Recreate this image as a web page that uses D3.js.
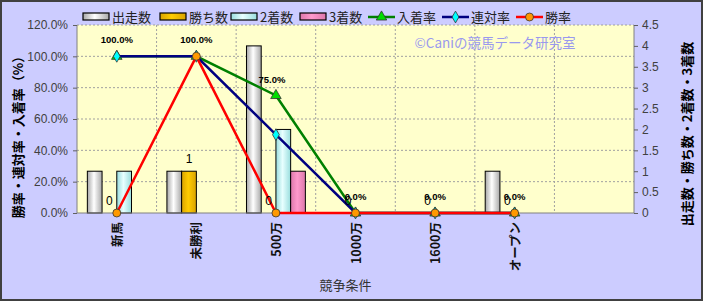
<!DOCTYPE html>
<html>
<head>
<meta charset="utf-8">
<script src="https://cdn.jsdelivr.net/npm/d3@7"></script>
<style>
body { margin: 0; background: #fff; }
svg text { font-family: "Noto Sans CJK JP", "DejaVu Sans", sans-serif; }
</style>
</head>
<body>
<div id="chart"></div>
<script>
// data
const cats = ["新馬", "未勝利", "500万", "1000万", "1600万", "オープン", ""];
const runs = [1, 1, 4, 0, 0, 1, null];
const wins = [0, 1, 0, 0, 0, 0, null];
const seconds = [1, 0, 2, 0, 0, 0, null];
const thirds = [0, 0, 1, 0, 0, 0, null];
const inRate = [100, 100, 75, 0, 0, 0, null];
const rentaiRate = [100, 100, 50, 0, 0, 0, null];
const winRate = [0, 100, 0, 0, 0, 0, null];
const leftTicks = [0, 20, 40, 60, 80, 100, 120];
const rightTicks = [0, 0.5, 1, 1.5, 2, 2.5, 3, 3.5, 4, 4.5];

const W = 703, H = 301;
const m = {left: 77, top: 25, right: 634, bottom: 213};

const svg = d3.select("#chart").append("svg").attr("width", W).attr("height", H);

const defs = svg.append("defs");
function grad(id, edge, mid) {
    const g = defs.append("linearGradient").attr("id", id).attr("x1", "0%").attr("x2", "100%");
    g.append("stop").attr("offset", "0%").attr("stop-color", edge);
    g.append("stop").attr("offset", "45%").attr("stop-color", mid);
    g.append("stop").attr("offset", "100%").attr("stop-color", edge);
}
grad("gRun", "#a8a8a8", "#ffffff");
grad("gWin", "#d9a300", "#ffcc00");
grad("gSec", "#99dddd", "#e8ffff");
grad("gThr", "#dd77aa", "#ff99cc");

svg.append("rect").attr("x", 1).attr("y", 1).attr("width", W - 2).attr("height", H - 2)
    .attr("fill", "#ccccff").attr("stroke", "#404040").attr("stroke-width", 2);

svg.append("rect").attr("x", m.left).attr("y", m.top)
    .attr("width", m.right - m.left).attr("height", m.bottom - m.top)
    .attr("fill", "#ffffcc");

const x = d3.scaleBand().domain(d3.range(cats.length)).range([m.left, m.right]);
const yL = d3.scaleLinear().domain([0, 120]).range([m.bottom, m.top]);
const yR = d3.scaleLinear().domain([0, 4.5]).range([m.bottom, m.top]);

// grid
svg.append("g").selectAll("line").data(leftTicks.slice(1))
    .enter().append("line")
    .attr("x1", m.left).attr("x2", m.right)
    .attr("y1", d => yL(d)).attr("y2", d => yL(d))
    .attr("stroke", "#a0a0a0").attr("stroke-dasharray", "2,2");
svg.append("g").selectAll("line").data(d3.range(1, cats.length))
    .enter().append("line")
    .attr("x1", d => x(d)).attr("x2", d => x(d))
    .attr("y1", m.top).attr("y2", m.bottom)
    .attr("stroke", "#a0a0a0").attr("stroke-dasharray", "2,2");

// watermark
svg.append("text").attr("x", 495).attr("y", 48).attr("text-anchor", "middle")
    .attr("fill", "#9999ee").attr("font-size", 13.5).text("©Caniの競馬データ研究室");

// bars
const series = [
    {name: "出走数", vals: runs, fill: "url(#gRun)"},
    {name: "勝ち数", vals: wins, fill: "url(#gWin)"},
    {name: "2着数", vals: seconds, fill: "url(#gSec)"},
    {name: "3着数", vals: thirds, fill: "url(#gThr)"}
];
const groupW = x.bandwidth() * 0.74;
const xs = d3.scaleBand().domain(d3.range(series.length)).range([0, groupW]);
series.forEach((s, j) => {
    svg.append("g").selectAll("rect")
        .data(s.vals.map((v, i) => ({v, i})).filter(d => d.v > 0))
        .enter().append("rect")
        .attr("x", d => x(d.i) + (x.bandwidth() - groupW) / 2 + xs(j))
        .attr("y", d => yR(d.v))
        .attr("width", xs.bandwidth())
        .attr("height", d => yR(0) - yR(d.v))
        .attr("fill", s.fill).attr("stroke", "#000").attr("stroke-width", 1);
});

// axes frame
svg.append("line").attr("x1", m.left).attr("x2", m.left).attr("y1", m.top).attr("y2", m.bottom).attr("stroke", "#808080");
svg.append("line").attr("x1", m.right).attr("x2", m.right).attr("y1", m.top).attr("y2", m.bottom).attr("stroke", "#808080");
svg.append("line").attr("x1", m.left).attr("x2", m.right).attr("y1", m.bottom).attr("y2", m.bottom).attr("stroke", "#808080");

const axL = svg.append("g").attr("transform", `translate(${m.left},0)`)
    .call(d3.axisLeft(yL).tickValues(leftTicks).tickFormat(d => d.toFixed(1) + "%").tickSize(4));
const axR = svg.append("g").attr("transform", `translate(${m.right},0)`)
    .call(d3.axisRight(yR).tickValues(rightTicks).tickFormat(d => d).tickSize(4));
[axL, axR].forEach(a => {
    a.select(".domain").remove();
    a.selectAll(".tick line").attr("stroke", "#606060");
    a.selectAll("text").attr("font-size", 12).attr("fill", "#404040")
        .style("font-family", "'Liberation Sans', Arial, sans-serif");
});
axL.selectAll("text").attr("x", -9);
axR.selectAll("text").attr("x", 8);

// x labels
svg.append("g").selectAll("text").data(cats)
    .enter().append("text")
    .attr("transform", (d, i) => `translate(${x(i) + x.bandwidth() / 2 + 5},${m.bottom + 9}) rotate(-90)`)
    .attr("text-anchor", "end").attr("font-size", 12.5).attr("font-weight", "bold").attr("fill", "#111")
    .text(d => d);

// lines
const lineSeries = [
    {name: "入着率", vals: inRate, color: "#008000", mark: d3.symbolTriangle, mfill: "#00dd00", size: 48},
    {name: "連対率", vals: rentaiRate, color: "#000080", mark: d3.symbolDiamond, mfill: "#00ffff", size: 40},
    {name: "勝率", vals: winRate, color: "#ff0000", mark: d3.symbolCircle, mfill: "#ff9900", size: 50}
];
const cx = i => x(i) + x.bandwidth() / 2;
lineSeries.forEach(s => {
    const pts = s.vals.map((v, i) => ({v, i})).filter(d => d.v !== null);
    svg.append("path").datum(pts)
        .attr("d", d3.line().x(d => cx(d.i)).y(d => yL(d.v)))
        .attr("fill", "none").attr("stroke", s.color).attr("stroke-width", 2.5);
    svg.append("g").selectAll("path").data(pts)
        .enter().append("path")
        .attr("transform", d => `translate(${cx(d.i)},${yL(d.v)})`)
        .attr("d", d3.symbol().type(s.mark).size(s.size))
        .attr("fill", s.mfill).attr("stroke", "#333").attr("stroke-width", 0.8);
});

// data labels: 勝ち数
svg.append("g").selectAll("text")
    .data(wins.map((v, i) => ({v, i})).filter(d => d.v !== null))
    .enter().append("text")
    .attr("x", d => x(d.i) + (x.bandwidth() - groupW) / 2 + xs(1) + xs.bandwidth() / 2)
    .attr("y", d => yR(d.v) - 8)
    .attr("text-anchor", "middle").attr("font-size", 12)
    .style("font-family", "'Liberation Sans', Arial, sans-serif")
    .text(d => d.v);

// data labels: 入着率
svg.append("g").selectAll("text")
    .data(inRate.map((v, i) => ({v, i})).filter(d => d.v !== null))
    .enter().append("text")
    .attr("x", d => cx(d.i) + (d.v === 75 ? -4 : 0))
    .attr("y", d => yL(d.v) - 13)
    .attr("text-anchor", "middle").attr("font-size", 9.5).attr("font-weight", "bold")
    .style("font-family", "'Liberation Sans', Arial, sans-serif")
    .text(d => d.v.toFixed(1) + "%");

// axis titles
svg.append("text").attr("transform", "translate(23,134) rotate(-90)")
    .attr("text-anchor", "middle").attr("font-size", 13).attr("font-weight", "bold")
    .text("勝率・連対率・入着率（%）");
svg.append("text").attr("transform", "translate(692,134) rotate(-90)")
    .attr("text-anchor", "middle").attr("font-size", 13).attr("font-weight", "bold")
    .text("出走数・勝ち数・2着数・3着数");
svg.append("text").attr("x", (m.left + m.right) / 2 - 10).attr("y", 290)
    .attr("text-anchor", "middle").attr("font-size", 13).attr("fill", "#333").text("競争条件");

// legend
const leg = svg.append("g").attr("transform", "translate(0,17)");
const legItems = [
    {x: 83, s: series[0], bar: true},
    {x: 160, s: series[1], bar: true},
    {x: 231, s: series[2], bar: true},
    {x: 300, s: series[3], bar: true},
    {x: 368, s: lineSeries[0], bar: false},
    {x: 442, s: lineSeries[1], bar: false},
    {x: 516, s: lineSeries[2], bar: false}
];
legItems.forEach(it => {
    if (it.bar) {
        leg.append("rect").attr("x", it.x).attr("y", -4).attr("width", 26).attr("height", 7)
            .attr("fill", it.s.fill).attr("stroke", "#000").attr("stroke-width", 1.2);
    } else {
        leg.append("line").attr("x1", it.x).attr("x2", it.x + 27).attr("y1", 0).attr("y2", 0)
            .attr("stroke", it.s.color).attr("stroke-width", 2.5);
        leg.append("path").attr("transform", `translate(${it.x + 13.5},0)`)
            .attr("d", d3.symbol().type(it.s.mark).size(it.s.size))
            .attr("fill", it.s.mfill).attr("stroke", "#333").attr("stroke-width", 0.8);
    }
    leg.append("text").attr("x", it.x + 29).attr("y", 5).attr("font-size", 13)
        .attr("fill", "#222").text(it.s.name);
});
</script>
</body>
</html>
